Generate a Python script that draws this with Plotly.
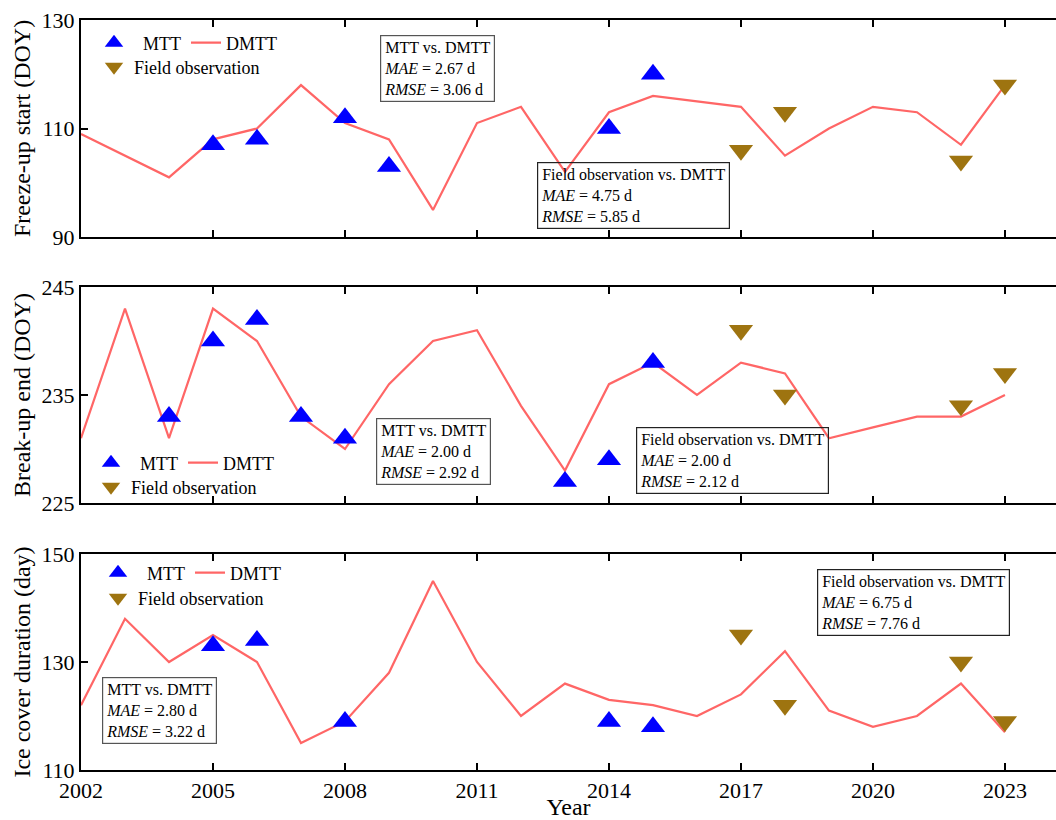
import plotly.graph_objects as go
from plotly.subplots import make_subplots

# ---------------- data ----------------
years = list(range(2002, 2024))

# Freeze-up start (DOY)
freeze_dmtt = [109, 105, 101, 108, 110, 118, 111, 108, 95, 111, 114,
               102, 113, 116, 115, 114, 105, 110, 114, 113, 107, 118]
freeze_mtt_years = [2005, 2006, 2008, 2009, 2014, 2015]
freeze_mtt = [107, 108, 112, 103, 110, 120]
freeze_field_years = [2017, 2018, 2022, 2023]
freeze_field = [106, 113, 104, 118]

# Break-up end (DOY)
breakup_dmtt = [231, 243, 231, 243, 240, 233, 230, 236, 240, 241, 234,
                228, 236, 238, 235, 238, 237, 231, 232, 233, 233, 235]
breakup_mtt_years = [2004, 2005, 2006, 2007, 2008, 2013, 2014, 2015]
breakup_mtt = [233, 240, 242, 233, 231, 227, 229, 238]
breakup_field_years = [2017, 2018, 2022, 2023]
breakup_field = [241, 235, 234, 237]

# Ice cover duration (day)
dur_dmtt = [122, 138, 130, 135, 130, 115, 119, 128, 145, 130, 120,
            126, 123, 122, 120, 124, 132, 121, 118, 120, 126, 117]
dur_mtt_years = [2005, 2006, 2008, 2014, 2015]
dur_mtt = [133, 134, 119, 119, 118]
dur_field_years = [2017, 2018, 2022, 2023]
dur_field = [135, 122, 130, 119]

y_titles = ["Freeze-up start (DOY)", "Break-up end (DOY)", "Ice cover duration (day)"]
y_ranges = [[90, 130], [225, 245], [110, 150]]
y_ticks = [[90, 110, 130], [225, 235, 245], [110, 130, 150]]
x_ticks = [2002, 2005, 2008, 2011, 2014, 2017, 2020, 2023]

stats_mtt = [("2.67", "3.06"), ("2.00", "2.92"), ("2.80", "3.22")]
stats_field = [("4.75", "5.85"), ("2.00", "2.12"), ("6.75", "7.76")]

# ---------------- styling ----------------
W, H = 1056, 820
ML, MR, MT, MB = 81, 0, 20, 50
PW, PH = W - ML - MR, H - MT - MB
FONT = "Liberation Serif"
BLUE = "#0000FF"
RED = "#FF6666"
GOLD = "#9E7410"

panels_px = [(20, 237), (287, 503), (554, 770)]  # top, bottom pixel of each plot


def px_x(px):
    return (px - ML) / PW


def px_y(py):
    return (H - MB - py) / PH


fig = make_subplots(rows=3, cols=1)

datasets = [
    (freeze_dmtt, freeze_mtt_years, freeze_mtt, freeze_field_years, freeze_field),
    (breakup_dmtt, breakup_mtt_years, breakup_mtt, breakup_field_years, breakup_field),
    (dur_dmtt, dur_mtt_years, dur_mtt, dur_field_years, dur_field),
]

for i, (dm, my, mv, fy, fv) in enumerate(datasets):
    r = i + 1
    leg_a = "legend" if i == 0 else f"legend{2 * i + 1}"
    leg_b = f"legend{2 * i + 2}"
    fig.add_trace(go.Scatter(x=years, y=dm, mode="lines", name="DMTT",
                             line=dict(color=RED, width=2.2), legend=leg_a,
                             legendrank=2), row=r, col=1)
    fig.add_trace(go.Scatter(x=my, y=mv, mode="markers", name="  MTT",
                             marker=dict(symbol="triangle-up", size=21, color=BLUE),
                             legend=leg_a, legendrank=1), row=r, col=1)
    fig.add_trace(go.Scatter(x=fy, y=fv, mode="markers", name="Field observation",
                             marker=dict(symbol="triangle-down", size=21, color=GOLD),
                             legend=leg_b), row=r, col=1)

axis_font = dict(family=FONT, size=22, color="black")
title_font = dict(family=FONT, size=24, color="black")

for i in range(3):
    top, bot = panels_px[i]
    xa = "xaxis" if i == 0 else f"xaxis{i + 1}"
    ya = "yaxis" if i == 0 else f"yaxis{i + 1}"
    fig.layout[xa].update(
        domain=[0, 1.0], range=[2002, 2024.16], automargin=False,
        tickmode="array", tickvals=x_ticks, ticktext=[str(t) for t in x_ticks],
        showticklabels=(i == 2), ticks="inside", ticklen=7, tickwidth=2,
        tickcolor="black", showline=True, linecolor="black", linewidth=2,
        mirror="ticks", showgrid=False, zeroline=False, tickfont=axis_font,
        anchor=ya.replace("axis", ""),
    )
    fig.layout[ya].update(
        domain=[px_y(bot), px_y(top)], range=y_ranges[i], automargin=False,
        tickmode="array", tickvals=y_ticks[i], ticks="inside", ticklen=7,
        tickwidth=2, tickcolor="black", showline=True, linecolor="black",
        linewidth=2, showgrid=False, zeroline=False, tickfont=axis_font,
        title=dict(text=y_titles[i], font=title_font, standoff=4),
        anchor=xa.replace("axis", ""),
    )

fig.layout["xaxis3"].title = dict(text="Year", font=title_font, standoff=5)

# legends: row 1 (MTT + DMTT) and row 2 (Field observation) for each panel
legend_pos = [(94, 43, 67), (91, 463, 487), (98, 573, 598)]
leg_font = dict(family=FONT, size=18, color="black")
legends = {}
for i, (lx, y1, y2) in enumerate(legend_pos):
    name_a = "legend" if i == 0 else f"legend{2 * i + 1}"
    name_b = f"legend{2 * i + 2}"
    legends[name_a] = dict(x=px_x(lx), y=px_y(y1), xanchor="left", yanchor="middle",
                           orientation="h", bgcolor="rgba(0,0,0,0)", font=leg_font,
                           borderwidth=0, traceorder="normal", itemwidth=30,
                           tracegroupgap=0)
    legends[name_b] = dict(x=px_x(lx), y=px_y(y2), xanchor="left", yanchor="middle",
                           orientation="h", bgcolor="rgba(0,0,0,0)", font=leg_font,
                           borderwidth=0)
fig.update_layout(**legends)

# statistic boxes (left px, top px)
mtt_boxes = [(380, 35), (376, 418), (102, 677)]
field_boxes = [(537, 162), (636, 427), (817, 569)]
ann_font = dict(family=FONT, size=16, color="black")
for i in range(3):
    mae, rmse = stats_mtt[i]
    bx, by = mtt_boxes[i]
    fig.add_annotation(
        xref="paper", yref="paper", x=px_x(bx), y=px_y(by), xanchor="left",
        yanchor="top", align="left", showarrow=False, font=ann_font,
        text=f"MTT vs. DMTT<br><i>MAE</i> = {mae} d<br><i>RMSE</i> = {rmse} d",
        bordercolor="#555555", borderwidth=1.2, borderpad=3,
    )
    mae, rmse = stats_field[i]
    bx, by = field_boxes[i]
    fig.add_annotation(
        xref="paper", yref="paper", x=px_x(bx), y=px_y(by), xanchor="left",
        yanchor="top", align="left", showarrow=False, font=ann_font,
        text=f"Field observation vs. DMTT<br><i>MAE</i> = {mae} d<br><i>RMSE</i> = {rmse} d",
        bordercolor="#222222", borderwidth=1.2, borderpad=3,
    )

fig.update_layout(
    width=W, height=H, margin=dict(l=ML, r=MR, t=MT, b=MB, autoexpand=False),
    paper_bgcolor="white", plot_bgcolor="white",
    font=dict(family=FONT, color="black"),
)

fig.write_html("out.html")
